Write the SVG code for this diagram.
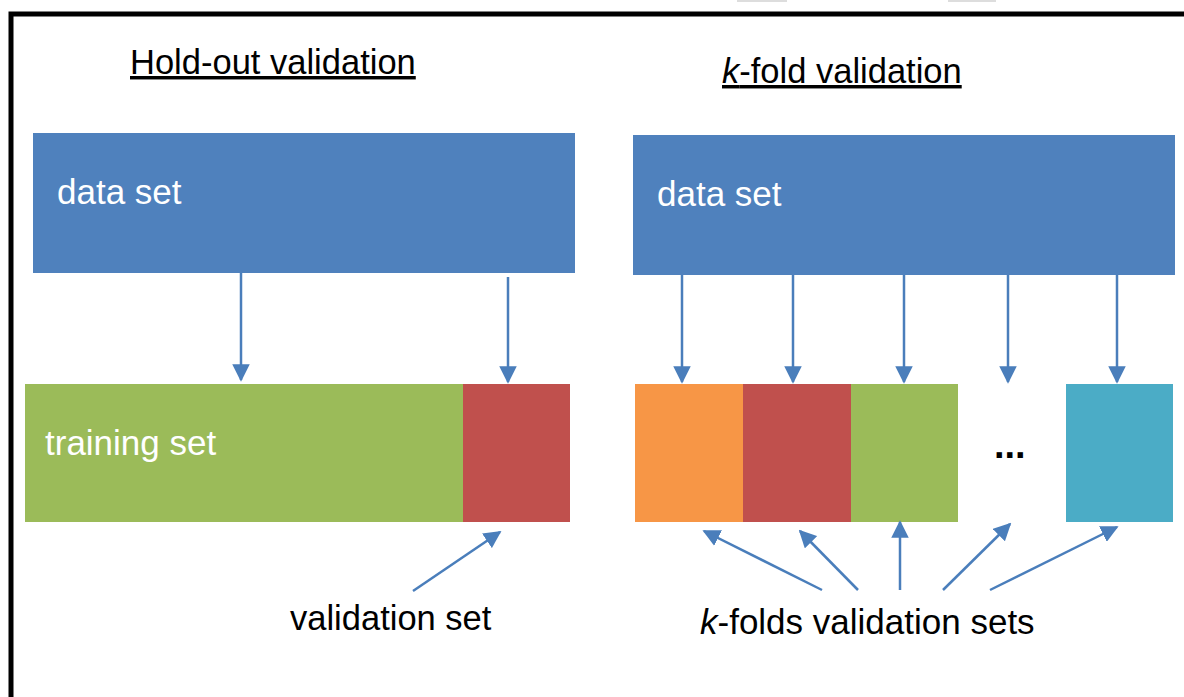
<svg xmlns="http://www.w3.org/2000/svg" width="1184" height="697" viewBox="0 0 1184 697">
  <style>
    .lbl { font-family: "Liberation Sans", Arial, sans-serif; fill: #000; }
    .in { font-family: "Liberation Sans", Arial, sans-serif; fill: #fff; font-size: 35px; }
    .head { font-size: 34.5px; text-decoration: underline; }
    .conn line { stroke: #4A7EBB; stroke-width: 2.5; marker-end: url(#arr); }
  </style>
  <defs>
    <marker id="arr" viewBox="0 0 10 10" refX="9" refY="5" markerWidth="7" markerHeight="7" markerUnits="strokeWidth" orient="auto">
      <path d="M0,0 L10,5 L0,10 z" fill="#4A7EBB"/>
    </marker>
  </defs>
  <rect width="1184" height="697" fill="#fff"/>
  <!-- faint tabs above the frame -->
  <rect x="737" y="0" width="50" height="2" fill="#ddd"/>
  <rect x="948" y="0" width="48" height="2" fill="#ddd"/>
  <!-- outer frame -->
  <path d="M11,697 L11,14 L1184,14" fill="none" stroke="#000" stroke-width="5"/>

  <!-- headings -->
  <text class="lbl head" x="130" y="74">Hold-out validation</text>
  <text class="lbl head" x="722" y="83"><tspan font-style="italic">k</tspan>-fold validation</text>

  <!-- hold-out side -->
  <g id="holdout-data">
    <rect x="33" y="133" width="542" height="140" fill="#4F81BD"/>
    <text class="in" x="57" y="204">data set</text>
  </g>
  <g id="training-set">
    <rect x="25" y="384" width="438" height="138" fill="#9BBB59"/>
    <text class="in" x="45" y="455">training set</text>
  </g>
  <g id="holdout-validation">
    <rect x="463" y="384" width="107" height="138" fill="#C0504D"/>
  </g>
  <g id="holdout-label">
    <text class="lbl" x="290" y="630" font-size="34.5">validation set</text>
  </g>

  <!-- k-fold side -->
  <g id="kfold-data">
    <rect x="633" y="135" width="542" height="140" fill="#4F81BD"/>
    <text class="in" x="657" y="206">data set</text>
  </g>
  <g id="fold-1"><rect x="635" y="384" width="108" height="138" fill="#F79646"/></g>
  <g id="fold-2"><rect x="743" y="384" width="108" height="138" fill="#C0504D"/></g>
  <g id="fold-3"><rect x="851" y="384" width="107" height="138" fill="#9BBB59"/></g>
  <g id="fold-ellipsis">
    <text class="lbl" x="994" y="458" font-size="38" font-weight="bold">...</text>
  </g>
  <g id="fold-k"><rect x="1066" y="384" width="107" height="138" fill="#4BACC6"/></g>
  <g id="kfold-label">
    <text class="lbl" x="700" y="634" font-size="35"><tspan font-style="italic">k</tspan>-folds validation sets</text>
  </g>

  <!-- connectors -->
  <g class="conn" id="connectors">
    <line x1="241" y1="273" x2="241" y2="380"/>
    <line x1="508" y1="277" x2="508" y2="382"/>
    <line x1="682" y1="275" x2="682" y2="382"/>
    <line x1="793" y1="275" x2="793" y2="382"/>
    <line x1="904" y1="275" x2="904" y2="382"/>
    <line x1="1008" y1="275" x2="1008" y2="382"/>
    <line x1="1117" y1="275" x2="1117" y2="382"/>
    <line x1="413" y1="591" x2="500" y2="532"/>
    <line x1="822" y1="590" x2="704" y2="531"/>
    <line x1="858" y1="590" x2="800" y2="531"/>
    <line x1="900" y1="590" x2="900" y2="522"/>
    <line x1="943" y1="590" x2="1010" y2="524"/>
    <line x1="990" y1="590" x2="1117" y2="527"/>
  </g>
</svg>
